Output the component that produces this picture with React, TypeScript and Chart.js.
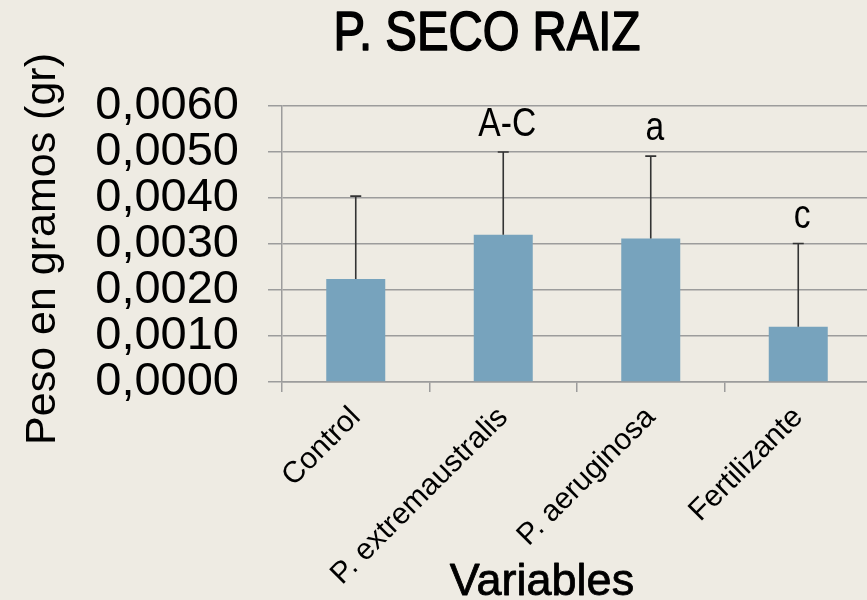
import React, { useEffect, useRef } from 'react';
import { Chart, registerables } from 'chart.js';

Chart.register(...registerables);

const categories = ['Control', 'P. extremaustralis', 'P. aeruginosa', 'Fertilizante'];
const means = [0.00224, 0.0032, 0.00312, 0.0012];
const errors = [0.0018, 0.0018, 0.00179, 0.00181];
const letters = ['', 'A-C', 'a', 'c'];
const yMin = 0;
const yMax = 0.006;
const yStep = 0.001;

const chartTitle = 'P. SECO RAIZ';
const yTitle = 'Peso en gramos (gr)';
const xTitle = 'Variables';

const BG = '#EEEBE3';
const BAR = '#77A3BD';
const GRID = '#9c9c9c';
const SANS = '"Liberation Sans", Arial, sans-serif';

function narrowText(ctx: any, text: string, x: number, y: number, size: number, sx: number, stroke = 0) {
  ctx.save();
  ctx.translate(x, y);
  ctx.scale(sx, 1);
  ctx.font = `${size}px ${SANS}`;
  ctx.textAlign = 'center';
  ctx.textBaseline = 'alphabetic';
  ctx.fillText(text, 0, 0);
  if (stroke > 0) {
    ctx.strokeStyle = ctx.fillStyle;
    ctx.lineWidth = stroke;
    ctx.lineJoin = 'round';
    ctx.strokeText(text, 0, 0);
  }
  ctx.restore();
}

const bgPlugin = {
  id: 'bg',
  beforeDraw(chart: any) {
    const ctx = chart.ctx;
    ctx.save();
    ctx.fillStyle = BG;
    ctx.fillRect(0, 0, chart.width, chart.height);
    ctx.restore();
  },
};

const errPlugin = {
  id: 'errbars',
  afterDatasetsDraw(chart: any) {
    const ctx = chart.ctx;
    const meta = chart.getDatasetMeta(0);
    const y = chart.scales.y;
    ctx.save();
    ctx.strokeStyle = '#333333';
    ctx.lineWidth = 1.6;
    meta.data.forEach((bar: any, i: number) => {
      const top = y.getPixelForValue(means[i] + errors[i]);
      ctx.beginPath();
      ctx.moveTo(bar.x, bar.y);
      ctx.lineTo(bar.x, top);
      ctx.moveTo(bar.x - 5.5, top);
      ctx.lineTo(bar.x + 5.5, top);
      ctx.stroke();
      if (letters[i]) {
        ctx.fillStyle = '#000';
        narrowText(ctx, letters[i], bar.x + 4, top - 16, 40, 0.84);
      }
    });
    ctx.restore();
  },
};

const textPlugin = {
  id: 'texts',
  afterDraw(chart: any) {
    const ctx = chart.ctx;
    ctx.save();
    ctx.fillStyle = '#000';
    narrowText(ctx, chartTitle, 487, 50, 56, 0.845, 1.6);
    narrowText(ctx, xTitle, 542, 595, 45, 1, 0.8);
    ctx.textAlign = 'center';
    ctx.textBaseline = 'alphabetic';
    ctx.translate(55, 249);
    ctx.rotate(-Math.PI / 2);
    ctx.font = `43px ${SANS}`;
    ctx.fillText(yTitle, 0, 0);
    ctx.restore();
  },
};

export default function App() {
  const ref = useRef<HTMLCanvasElement>(null);
  useEffect(() => {
    document.body.style.background = BG;
    const chart = new Chart(ref.current!, {
      type: 'bar',
      data: {
        labels: categories,
        datasets: [
          {
            data: means,
            backgroundColor: BAR,
            borderWidth: 0,
            barPercentage: 0.4,
            categoryPercentage: 1,
          },
        ],
      },
      options: {
        responsive: false,
        animation: false,
        layout: { padding: { top: 106, right: 8, left: 0, bottom: 0 } },
        plugins: { legend: { display: false }, tooltip: { enabled: false }, title: { display: false } },
        scales: {
          x: {
            grid: { display: true, drawOnChartArea: false, color: GRID, lineWidth: 1.5, tickLength: 10, offset: true },
            border: { display: true, color: GRID, width: 1.5 },
            ticks: {
              color: '#000',
              font: { family: SANS, size: 30 },
              maxRotation: 45,
              minRotation: 45,
              padding: 8,
              autoSkip: false,
            },
            afterFit: (s: any) => {
              s.height = 218;
            },
          },
          y: {
            min: yMin,
            max: yMax,
            grid: { color: GRID, lineWidth: 1.5, tickLength: 14 },
            border: { display: true, color: GRID, width: 1.5 },
            ticks: {
              stepSize: yStep,
              autoSkip: false,
              color: '#000',
              font: { family: SANS, size: 47 },
              padding: 29,
              callback: (v: any) => Number(v).toFixed(4).replace('.', ','),
            },
            afterFit: (s: any) => {
              s.width = 282;
            },
          },
        },
      },
      plugins: [bgPlugin, errPlugin, textPlugin],
    });
    return () => chart.destroy();
  }, []);
  return (
    <div style={{ position: 'fixed', left: 0, top: 0, width: 867, height: 600, overflow: 'hidden', background: BG }}>
      <canvas ref={ref} width={880} height={600} style={{ display: 'block', width: 880, height: 600 }} />
    </div>
  );
}
